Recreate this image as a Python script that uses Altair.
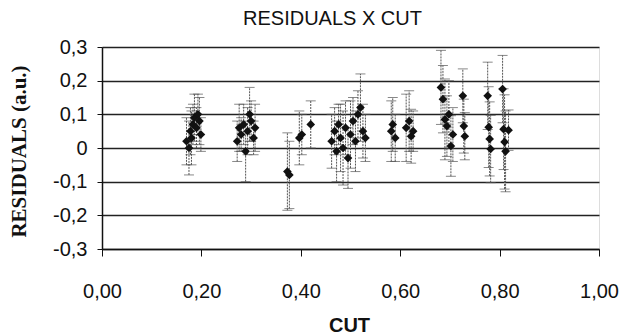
import altair as alt
import pandas as pd

# Data
cut = [0.170, 0.175, 0.178, 0.180, 0.183, 0.186, 0.190, 0.193, 0.196, 0.199,
       0.272, 0.276, 0.280, 0.285, 0.289, 0.293, 0.297, 0.300, 0.305, 0.308,
       0.373, 0.377, 0.397, 0.402, 0.420,
       0.462, 0.468, 0.472, 0.476, 0.480, 0.485, 0.490, 0.495, 0.500, 0.505,
       0.510, 0.515, 0.520, 0.525, 0.530,
       0.582, 0.585, 0.590, 0.612, 0.618, 0.622, 0.626,
       0.682, 0.686, 0.690, 0.694, 0.698, 0.702, 0.706, 0.726, 0.728, 0.730,
       0.776, 0.778, 0.780, 0.782, 0.806, 0.808, 0.810, 0.812, 0.818]
residual = [0.02, 0.00, 0.05, 0.03, 0.07, 0.09, 0.06, 0.10, 0.08, 0.04,
            0.02, 0.06, 0.04, 0.07, -0.01, 0.05, 0.10, 0.08, 0.03, 0.06,
            -0.07, -0.08, 0.03, 0.04, 0.07,
            0.02, 0.05, -0.01, 0.07, 0.03, 0.00, 0.06, -0.03, 0.04, 0.08,
            0.02, 0.10, 0.12, 0.05, 0.03,
            0.05, 0.07, 0.03, 0.06, 0.08, 0.035, 0.05,
            0.18, 0.145, 0.085, 0.065, 0.10, 0.006, 0.04, 0.155, 0.065, 0.035,
            0.155, 0.062, 0.027, -0.003, 0.175, 0.056, 0.018, -0.01, 0.053]
error = [0.07, 0.08, 0.07, 0.08, 0.06, 0.07, 0.06, 0.06, 0.07, 0.05,
         0.06, 0.07, 0.05, 0.06, 0.09, 0.07, 0.08, 0.06, 0.05, 0.07,
         0.115, 0.10, 0.08, 0.06, 0.07,
         0.08, 0.07, 0.09, 0.06, 0.10, 0.11, 0.08, 0.09, 0.10, 0.07,
         0.09, 0.07, 0.10, 0.08, 0.07,
         0.09, 0.08, 0.07, 0.10, 0.09, 0.08, 0.06,
         0.11, 0.10, 0.12, 0.09, 0.10, 0.09, 0.08, 0.08, 0.08, 0.07,
         0.10, 0.12, 0.11, 0.10, 0.10, 0.12, 0.14, 0.12, 0.06]

x_ticks = [0.0, 0.2, 0.4, 0.6, 0.8, 1.0]
y_ticks = [-0.3, -0.2, -0.1, 0.0, 0.1, 0.2, 0.3]

df = pd.DataFrame({"cut": cut, "res": residual, "err": error})
df["lo"] = df["res"] - df["err"]
df["hi"] = df["res"] + df["err"]

FONT = "Liberation Sans"

x_axis = alt.Axis(
    values=x_ticks, tickCount=20,
    labelExpr="replace(format(datum.value, '.2f'), '.', ',')",
    grid=False,
    title="CUT",
    titleFont=FONT, titleFontSize=20, titleFontWeight="bold", titleColor="#111",
    titleX=247, titleY=76, titleBaseline="middle",
    labelFont=FONT, labelFontSize=20, labelColor="#111",
    labelPadding=25, tickSize=7, tickColor="#111",
    domainColor="#111", domainWidth=1.5,
    labelFlush=False, labelOverlap=False,
)

y_axis = alt.Axis(
    values=y_ticks, tickCount=20,
    labelExpr="datum.value == 0 ? '0' : (datum.value < 0 ? '-' : '') + replace(format(abs(datum.value), '.1f'), '.', ',')",
    grid=True, gridColor="#222", gridWidth=1.3,
    title="RESIDUALS (a.u.)",
    titleFont="Liberation Serif", titleFontSize=21, titleFontWeight="bold", titleColor="#111",
    titleX=-83, titleY=104, titleAngle=-90, titleAlign="center",
    titleBaseline="middle",
    labelFont=FONT, labelFontSize=20, labelColor="#111",
    labelPadding=10, tickSize=5, tickColor="#111",
    domainColor="#111", domainWidth=1.5,
    labelFlush=False, labelOverlap=False,
)

x_scale = alt.Scale(domain=[0, 1], nice=False)
y_scale = alt.Scale(domain=[-0.3, 0.3], nice=False)

base = alt.Chart(df)

bars = base.mark_rule(color="#555", strokeWidth=1, strokeDash=[2, 1]).encode(
    x=alt.X("cut:Q", scale=x_scale, axis=x_axis),
    y=alt.Y("lo:Q", scale=y_scale, axis=y_axis),
    y2="hi:Q",
)
cap_lo = base.mark_tick(orient="horizontal", color="#555", size=10, thickness=1).encode(
    x="cut:Q", y="lo:Q"
)
cap_hi = base.mark_tick(orient="horizontal", color="#555", size=10, thickness=1).encode(
    x="cut:Q", y="hi:Q"
)
points = base.mark_point(shape="diamond", filled=True, color="#111", size=75, opacity=1).encode(
    x="cut:Q", y="res:Q"
)

chart = (
    alt.layer(bars, cap_lo, cap_hi, points)
    .properties(
        width=497,
        height=202,
        title=alt.TitleParams(
            "RESIDUALS X CUT", font=FONT, fontSize=20, fontWeight="normal",
            color="#111", anchor="middle", dx=-18, offset=8,
        ),
        autosize=alt.AutoSizeParams(type="none"),
        padding={"left": 102, "top": 47, "right": 25, "bottom": 87},
    )
    .configure_view(stroke="#222", strokeWidth=1.2)
    .configure(background="white")
)

chart.save("out.html", embed_options={"renderer": "svg", "actions": False})
